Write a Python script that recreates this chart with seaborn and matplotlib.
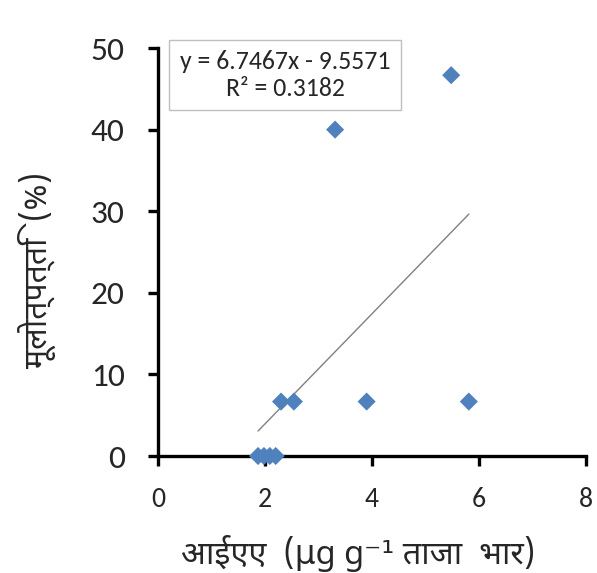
import matplotlib
matplotlib.use("Agg")
import matplotlib.pyplot as plt
from matplotlib import font_manager as fm
import seaborn as sns
import pandas as pd

# ---- data ----
iaa = [1.87, 1.98, 2.09, 2.20, 2.30, 2.54, 3.90, 5.81, 3.31, 5.48]
rooting = [0.0, 0.0, 0.0, 0.0, 6.67, 6.67, 6.67, 6.67, 40.0, 46.67]
slope = 6.7467
intercept = -9.5571
r2 = 0.3182
x_ticks = [0, 2, 4, 6, 8]
y_ticks = [0, 10, 20, 30, 40, 50]
x_label = "आईएए  (µg g⁻¹ ताजा  भार)"
y_label = "मूलोत्पत्ति  (%)"
eq_text = "y = 6.7467x - 9.5571\nR² = 0.3182"

sns.set_theme(style="white")

available = {f.name for f in fm.fontManager.ttflist}
def pick(cands, default="DejaVu Sans"):
    for c in cands:
        if c in available:
            return c
    return default

num_font = pick(["Carlito", "Calibri", "Liberation Sans"])
dev_font = pick(["Noto Sans Devanagari", "Lohit Devanagari", "Mukta", "Hind", "FreeSans"])
plt.rcParams['font.family'] = [num_font, 'DejaVu Sans']

df = pd.DataFrame({"iaa": iaa, "rooting": rooting})

fig = plt.figure(figsize=(5.97, 5.73), dpi=100)
ax = fig.add_axes([158/597, 1-456/573, (586-158)/597, (456-48)/573])

# trendline
xs = [min(iaa), max(iaa)]
trend = pd.DataFrame({"x": xs, "y": [slope*v + intercept for v in xs]})
sns.lineplot(data=trend, x="x", y="y", ax=ax, color="#808080", linewidth=1.0, zorder=2)

sns.scatterplot(data=df, x="iaa", y="rooting", ax=ax, marker="D", s=85,
                color="#4F81BD", edgecolor="none", linewidth=0, zorder=3, clip_on=False)

ax.set_xlim(0, 8)
ax.set_ylim(0, 50)
ax.set_xticks(x_ticks)
ax.set_yticks(y_ticks)
ax.set_xticklabels([str(v) for v in x_ticks], fontsize=20, fontfamily=[num_font, 'DejaVu Sans'])
ax.set_yticklabels([str(v) for v in y_ticks], fontsize=24, fontfamily=[num_font, 'DejaVu Sans'])

for s in ["top", "right"]:
    ax.spines[s].set_visible(False)
for s in ["left", "bottom"]:
    ax.spines[s].set_color("black")
    ax.spines[s].set_linewidth(2.4)
ax.tick_params(axis="both", which="major", direction="out", length=7, width=2.4,
               color="black", left=True, bottom=True)
ax.tick_params(axis="y", pad=17)
ax.tick_params(axis="x", pad=15)
ax.grid(False)

ax.set_xlabel("")
ax.set_ylabel("")
fig.text(358/597, 1-553/573, x_label, ha="center", va="center", fontsize=23.5,
         fontfamily=[dev_font, 'DejaVu Sans'])
fig.text(37/597, 1-270/573, y_label, ha="center", va="center", fontsize=23,
         rotation=90, fontweight="bold", fontfamily=[dev_font, 'DejaVu Sans'])

fig.text(285/597, 1-75/573, eq_text, ha="center", va="center", fontsize=18.5,
         linespacing=1.2, fontfamily=[num_font, 'DejaVu Sans'],
         bbox=dict(boxstyle="square,pad=0.4", facecolor="white", edgecolor="#BFBFBF", linewidth=1.0))

fig.savefig("out.png", dpi=100)
